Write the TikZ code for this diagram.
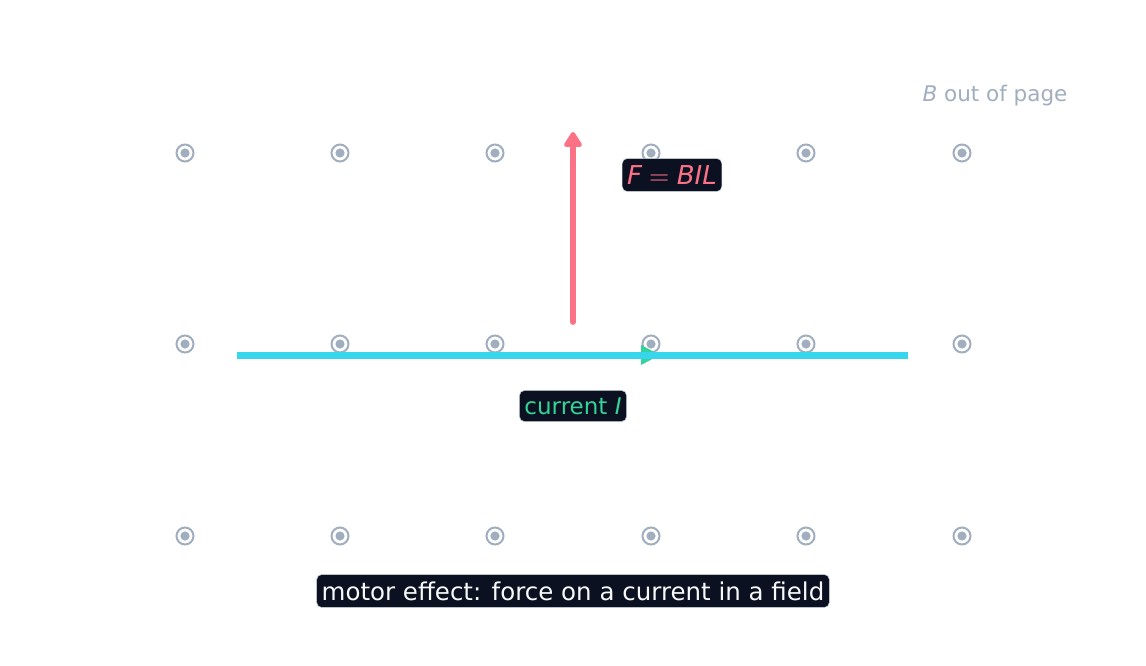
\documentclass[tikz,border=0pt]{standalone}
\usepackage{fontspec}
\setmainfont{DejaVu Sans}
\usepackage{unicode-math}
\setmathfont{Latin Modern Math}
\setmathfont[range={it}]{DejaVu Sans Oblique}
\setmathfont[range={up}]{DejaVu Sans}
\usetikzlibrary{positioning, arrows.meta}
\definecolor{fieldgray}{HTML}{A0AEC0}
\definecolor{wirecyan}{HTML}{38D6EC}
\definecolor{forcered}{HTML}{FB7185}
\definecolor{currgreen}{HTML}{34D399}
\definecolor{boxdark}{HTML}{0B1120}
\tikzset{
  tag/.style={fill=boxdark, draw=fieldgray!60, line width=0.5pt, rounded corners=5pt, inner xsep=5pt, inner ysep=7pt},
  fielddot/.style={circle, draw=fieldgray, line width=2pt, minimum size=17pt, inner sep=0pt,
    path picture={\fill[fieldgray] (path picture bounding box.center) circle (4.6pt);}},
}
\begin{document}
\begin{tikzpicture}[x=1pt, y=-1pt]
      \useasboundingbox (0,0) rectangle (1146,666);

      \foreach \i/\x in {1/185,2/340,3/495,4/651,5/806,6/962}
        \foreach \j/\y in {1/153,2/344,3/536}
          \node[fielddot] (D\i\j) at (\x,\y) {};

      \node[text=fieldgray, font=\fontsize{21.5}{26}\selectfont] (Blabel) at (995,96) {$B$ out of page};

      \coordinate (wireL) at (237,355);
      \coordinate (wireR) at (908,355);
      \fill[currgreen] (641,345) -- (660,355) -- (641,365) -- cycle;
      \draw[wirecyan, line width=7pt] (wireL) -- (wireR);

      \coordinate (Fbase) at (573,322);
      \coordinate (Ftip) at (573,132);
      \draw[forcered, line width=5.8pt, line cap=round, -{Triangle[length=17pt,width=20pt,round]}] (Fbase) -- (Ftip);

      \node[tag, text=forcered, font=\fontsize{26}{31}\selectfont] (Flabel) at (672,175) {$F=BIL$};
      \node[tag, text=currgreen, font=\fontsize{23}{28}\selectfont] (Ilabel) at (573,406) {current $I$};
      \node[tag, text=white!92!fieldgray, font=\fontsize{24.5}{29}\selectfont] (caption) at (573,591) {motor effect: force on a current in a field};
    \end{tikzpicture}
\end{document}
